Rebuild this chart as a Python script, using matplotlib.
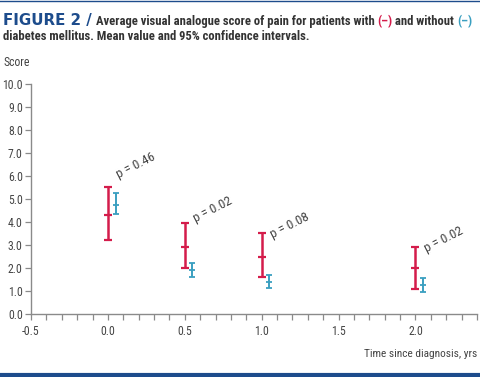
import matplotlib
matplotlib.use("Agg")
import matplotlib.pyplot as plt
from matplotlib.ticker import MultipleLocator

# Data
times = [0.0, 0.5, 1.0, 2.0]
dm_mean = [4.3, 2.93, 2.5, 2.0]
dm_low = [3.2, 2.0, 1.62, 1.07]
dm_high = [5.5, 3.94, 3.5, 2.93]
nodm_mean = [4.72, 1.9, 1.4, 1.28]
nodm_low = [4.35, 1.6, 1.14, 0.97]
nodm_high = [5.25, 2.2, 1.7, 1.55]
p_labels = ["p = 0.46", "p = 0.02", "p = 0.08", "p = 0.02"]
p_label_y = [5.9, 4.0, 3.3, 2.7]
offset = 0.05

RED = "#d41c4b"
BLUE = "#3a9fc0"
NAVY = "#1d4c8c"
COND = ["Liberation Sans Narrow", "Roboto Condensed", "DejaVu Sans Condensed", "Liberation Sans"]

W, H = 480, 377
fig = plt.figure(figsize=(4.8, 3.77), dpi=100)
ax = fig.add_axes([31/W, 1-314/H, (477-31)/W, (314-84)/H])

xs2 = [t + offset for t in times]
ax.errorbar(times, dm_mean,
            yerr=[[m - l for m, l in zip(dm_mean, dm_low)], [h - m for m, h in zip(dm_mean, dm_high)]],
            fmt='_', color=RED, ecolor=RED, elinewidth=1.8, capsize=3, capthick=1.6,
            markersize=6, markeredgewidth=1.6)
ax.errorbar(xs2, nodm_mean,
            yerr=[[m - l for m, l in zip(nodm_mean, nodm_low)], [h - m for m, h in zip(nodm_mean, nodm_high)]],
            fmt='_', color=BLUE, ecolor=BLUE, elinewidth=1.4, capsize=2.5, capthick=1.3,
            markersize=5, markeredgewidth=1.3)

for t, py, lab in zip(times, p_label_y, p_labels):
    ax.text(t + 0.07, py, lab, rotation=27, rotation_mode='anchor',
            ha='left', va='baseline', fontsize=9.5, color="#444444", family=COND)

ax.set_xlim(-0.5, 2.4)
ax.set_ylim(0, 10)
ax.xaxis.set_minor_locator(MultipleLocator(0.1))
ax.set_xticks([-0.5, 0.0, 0.5, 1.0, 1.5, 2.0])
ax.set_xticklabels(["-0.5", "0.0", "0.5", "1.0", "1.5", "2.0"])
ax.set_yticks(range(11))
ax.set_yticklabels([f"{v:.1f}" for v in range(11)])
for s in ["top", "right"]:
    ax.spines[s].set_visible(False)
for s in ["left", "bottom"]:
    ax.spines[s].set_color("#8a8a8a")
    ax.spines[s].set_linewidth(1.0)
ax.tick_params(which='both', direction='out', length=4, width=0.9, color="#8a8a8a",
               labelsize=8.5, labelcolor="#444444", pad=2)
ax.tick_params(axis='x', pad=4)
for lab in ax.get_xticklabels() + ax.get_yticklabels():
    lab.set_family(COND)

# Title, line 1, built piece by piece on one baseline
base1 = 1 - 25/H
t1 = fig.text(3/W, base1, "FIGURE 2 /", fontsize=10.8, fontweight='bold', color=NAVY,
              family=["DejaVu Sans"], va='baseline')
parts = [("Average visual analogue score of pain for patients with ", "#333333"),
         ("(–)", RED), (" and without ", "#333333"), ("(–)", BLUE)]
fig.canvas.draw()
r = fig.canvas.get_renderer()
xpos = t1.get_window_extent(r).x1 + 4
for txt, col in parts:
    tt = fig.text(xpos / W, base1, txt, fontsize=9.1, fontweight='bold', color=col,
                  family=COND, va='baseline')
    xpos = tt.get_window_extent(r).x1
fig.text(3/W, 1-40/H, "diabetes mellitus. Mean value and 95% confidence intervals.",
         fontsize=9.1, fontweight='bold', color="#333333", family=COND, va='baseline')

fig.text(3/W, 1-66/H, "Score", fontsize=8.5, color="#444444", family=COND, va='baseline')
fig.text(477/W, 1-357/H, "Time since diagnosis, yrs", fontsize=8.2, color="#444444",
         family=COND, ha='right', va='baseline')

# decorative lines
fig.add_artist(plt.Line2D([0, 1], [1-0.5/H, 1-0.5/H], color=NAVY, lw=1.0, transform=fig.transFigure))
fig.add_artist(plt.Line2D([0, 1], [1-375/H, 1-375/H], color=NAVY, lw=3.0, transform=fig.transFigure))

fig.savefig("out.png", dpi=100)
